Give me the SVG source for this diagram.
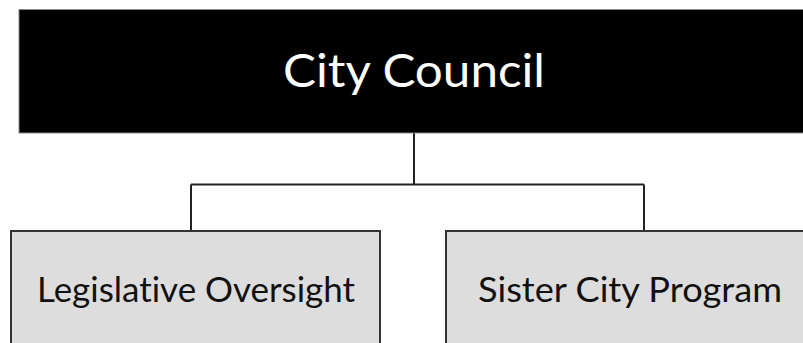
<svg xmlns="http://www.w3.org/2000/svg" width="803" height="343" viewBox="0 0 803 343">
<style>
.top{fill:#000;stroke:#888;stroke-width:1}
.box{fill:#dddddd;stroke:#333;stroke-width:2}
.t1{font-family:Lato,"Open Sans","Liberation Sans",sans-serif;font-size:46px;fill:#fff;text-anchor:middle;font-variant-ligatures:none}
.t2{font-family:Lato,"Open Sans","Liberation Sans",sans-serif;font-size:35px;fill:#111;text-anchor:middle;font-variant-ligatures:none}
.conn{fill:none;stroke:#222;stroke-width:2}
</style>
<rect width="803" height="343" fill="#fff"/>
<g id="connectors">
<path class="conn" d="M414 133 V184.5 M191 184.5 H644 M191 184.5 V231 M644 184.5 V231"/>
</g>
<g id="city-council">
<rect class="top" x="19" y="9.5" width="800" height="123.5"/>
<text class="t1" x="414" y="87" textLength="262" lengthAdjust="spacingAndGlyphs">City Council</text>
</g>
<g id="legislative-oversight">
<rect class="box" x="11" y="231" width="369" height="130"/>
<text class="t2" x="196" y="302" textLength="318" lengthAdjust="spacingAndGlyphs">Legislative Oversight</text>
</g>
<g id="sister-city-program">
<rect class="box" x="446" y="231" width="370" height="130"/>
<text class="t2" x="630" y="302" textLength="304" lengthAdjust="spacingAndGlyphs">Sister City Program</text>
</g>
</svg>
